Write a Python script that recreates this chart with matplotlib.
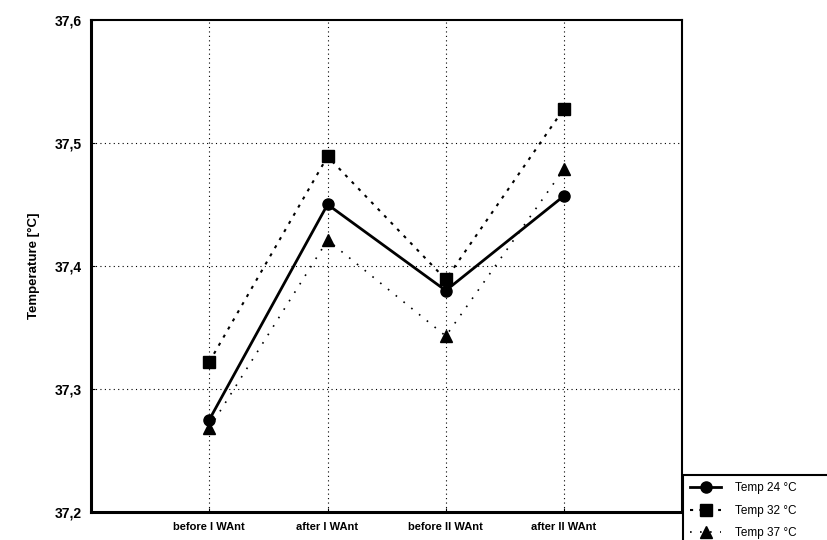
import matplotlib.pyplot as plt
from matplotlib.ticker import FuncFormatter

# data
categories = ['before I WAnt', 'after I WAnt', 'before II WAnt', 'after II WAnt']
temp_24 = [37.275, 37.450, 37.380, 37.457]
temp_32 = [37.322, 37.489, 37.389, 37.528]
temp_37 = [37.268, 37.421, 37.343, 37.479]
y_ticks = [37.2, 37.3, 37.4, 37.5, 37.6]

plt.rcParams['font.family'] = ['Liberation Sans', 'DejaVu Sans']

fig = plt.figure(figsize=(8.28, 5.4), dpi=100)
ax = fig.add_axes([0.110, 0.052, 0.714, 0.911])

x = list(range(1, len(categories) + 1))

# grid first so the lines sit on top
for xi in x:
    ax.axvline(xi, color='black', lw=0.8, ls=(0, (1, 3)), zorder=1)
for yv in y_ticks[1:-1]:
    ax.axhline(yv, color='black', lw=0.8, ls=(0, (1, 3)), zorder=1)

ax.plot(x, temp_24, color='black', lw=2, ls='-', marker='o', ms=8,
        label='Temp 24 °C', zorder=3)
ax.plot(x, temp_32, color='black', lw=1.5, ls=(0, (1.5, 3)), marker='s', ms=8,
        label='Temp 32 °C', zorder=3)
ax.plot(x, temp_37, color='black', lw=1.2, ls=(0, (1, 5)), marker='^', ms=8,
        label='Temp 37 °C', zorder=3)

ax.set_xlim(0, 5)
ax.set_ylim(37.2, 37.6)
ax.set_xticks(x)
ax.set_xticklabels(categories, fontsize=8, fontweight='bold')
ax.set_yticks(y_ticks)
ax.yaxis.set_major_formatter(FuncFormatter(lambda v, p: f'{v:.1f}'.replace('.', ',')))
for lbl in ax.get_yticklabels():
    lbl.set_fontweight('bold')
    lbl.set_fontsize(10)
ax.tick_params(axis='both', direction='in', length=3, color='black', pad=7)
ax.set_ylabel('Temperature [°C]', fontsize=9.5, fontweight='bold', labelpad=10)

for side, w in [('left', 2.2), ('bottom', 2.2), ('top', 1.5), ('right', 1.5)]:
    ax.spines[side].set_linewidth(w)
    ax.spines[side].set_color('black')

leg = fig.legend(loc='lower left', bbox_to_anchor=(0.825, -0.012, 0.185, 0.2),
                 mode='expand', fancybox=False, edgecolor='black', framealpha=1,
                 borderaxespad=0, handlelength=2.6, handletextpad=1.2,
                 borderpad=0.6, labelspacing=0.9, prop={'size': 8.5})
leg.get_frame().set_linewidth(1.5)

fig.savefig('out.png', dpi=100)
